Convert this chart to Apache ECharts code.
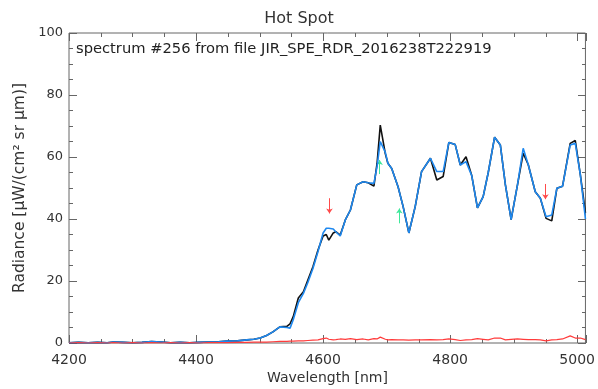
<!DOCTYPE html>
<html>
<head>
<meta charset="utf-8">
<script src="https://cdn.jsdelivr.net/npm/echarts@6/dist/echarts.min.js"></script>
<style>
  html, body { margin: 0; padding: 0; background: #fff; }
  #chart { width: 598px; height: 389px; }
</style>
</head>
<body>
<div id="chart"></div>
<script>
// Wavelength samples [nm]
const wavelength = [4200,4215,4230,4245,4260,4270,4285,4300,4315,4330,4345,4360,4375,4390,4405,4420,4435,4449,4465,4480,4491,4501,4511,4521,4532,4543,4548,4553,4561,4569,4576,4584,4592,4600,4605,4609,4616,4620,4627,4635,4643,4653,4663,4671,4680,4685,4690,4698,4702,4708,4718,4726,4735,4745,4755,4769,4779,4789,4798,4808,4816,4825,4834,4843,4852,4860,4870,4879,4887,4896,4906,4915,4923,4934,4942,4951,4960,4968,4977,4989,4997,5005,5013];

// Observed radiance (black)
const observed = [0.1,0.2,0.1,0.2,0.1,0.3,0.2,0.1,0.2,0.5,0.3,0.1,0.2,0.1,0.2,0.3,0.4,0.6,0.7,1.0,1.2,1.6,2.4,3.6,5.2,5.4,6.2,8.5,14.5,16.5,20.3,24.6,30.0,34.5,35.0,33.2,35.5,35.9,34.8,39.7,42.9,51.0,52.0,51.7,50.6,58.0,70.3,61.0,58.0,56.3,50.4,44.0,35.5,44.0,55.3,59.6,52.6,53.7,64.7,64.0,57.4,60.1,54.0,43.6,47.2,55.0,66.4,63.9,51.0,39.8,51.0,61.2,57.5,48.8,46.7,40.2,39.4,49.9,50.6,64.4,65.3,54.2,42.0];

// Model fit (blue)
const model = [0.1,0.2,0.1,0.2,0.1,0.3,0.2,0.1,0.2,0.5,0.3,0.1,0.2,0.1,0.2,0.3,0.4,0.6,0.7,1.0,1.2,1.6,2.4,3.6,5.2,5.0,4.8,7.5,13.0,16.0,19.5,24.0,29.5,35.5,37.0,37.0,36.8,35.9,34.5,39.7,42.9,51.0,52.0,51.7,51.5,57.0,65.0,61.5,58.0,56.3,50.4,44.0,35.5,44.0,55.3,59.6,55.3,55.3,64.7,64.0,57.4,58.5,54.0,43.6,47.2,55.0,66.4,63.9,51.0,39.8,51.0,62.8,57.5,48.8,46.7,40.7,41.3,49.9,50.6,63.9,64.4,54.2,40.0];

// Residual / error (red)
const residual = [0.0,0.1,0.0,0.1,0.0,0.1,0.0,0.1,0.0,0.1,0.0,0.1,0.0,0.1,0.0,0.1,0.1,0.1,0.2,0.2,0.3,0.3,0.3,0.4,0.5,0.5,0.6,0.6,0.7,0.7,0.8,0.9,1.0,1.4,1.6,1.2,1.0,1.1,1.3,1.2,1.4,1.1,1.3,1.0,1.4,1.3,1.9,1.2,1.0,1.1,1.0,1.0,0.9,1.0,1.0,1.1,1.0,1.1,1.3,1.1,0.8,1.0,1.1,1.4,1.2,1.0,1.6,1.6,1.0,1.2,1.3,1.2,1.1,1.1,1.0,0.7,1.0,1.1,1.3,2.3,1.6,1.6,1.1];

// Marker arrows: [wavelength, tail value, head value]
const redArrows = [[4610, 46.7, 41.8], [4950, 51.3, 46.4]];
const greenArrows = [[4689, 54.5, 59.0], [4720, 38.6, 43.4]];

const FONT = 'DejaVu Sans';
const AXIS_COLOR = '#666';
const X_MIN = 4200, X_MAX = 5013;
const X_MAJOR = 200, X_MINOR = 50;
const Y_MIN = 0, Y_MAX = 100, Y_MAJOR = 20, Y_MINOR = 5;
const GRID_BOX = { left: 69, top: 33, right: 12, bottom: 46 };

const pairs = (ys) => wavelength.map((x, i) => [x, ys[i]]);
const arrowData = (list) => list.map(a => ({ coords: [[a[0], a[1]], [a[0], a[2]]] }));
const textStyle = (size) => ({ fontFamily: FONT, fontSize: size, color: '#333' });

// Tick-only axis: shifted into the plot by its tick length so the ticks
// point inward from the frame edge.
function tickAxis(dim, gridIndex, pos, interval, len) {
  return {
    type: 'value', gridIndex, position: pos, offset: -len, interval,
    min: dim === 'x' ? X_MIN : Y_MIN, max: dim === 'x' ? X_MAX : Y_MAX,
    axisLine: { show: false, onZero: false },
    axisTick: { show: true, length: len, lineStyle: { color: AXIS_COLOR } },
    axisLabel: { show: false },
    splitLine: { show: false }
  };
}

const chart = echarts.init(document.getElementById('chart'));
chart.setOption({
  animation: false,
  title: {
    text: 'Hot Spot', left: 'center', top: 6,
    textStyle: { fontFamily: FONT, fontSize: 16, fontWeight: 'normal', color: '#333' }
  },
  // grid 0: frame, labels and data; grid 1: major ticks; grid 2: minor ticks
  grid: [
    Object.assign({ show: true, borderColor: AXIS_COLOR, borderWidth: 1 }, GRID_BOX),
    Object.assign({}, GRID_BOX),
    Object.assign({}, GRID_BOX)
  ],
  graphic: [
    {
      type: 'text', left: 76, top: 42,
      style: { text: 'spectrum #256 from file JIR_SPE_RDR_2016238T222919',
               font: '14.7px "DejaVu Sans"', fill: '#222' }
    },
    {
      // y-axis title, rotated
      type: 'text', x: 20, y: 188, rotation: Math.PI / 2,
      style: { text: 'Radiance [\u03bcW/(cm\u00b2 sr \u03bcm)]', font: '15.5px "DejaVu Sans"',
               fill: '#333', align: 'center', verticalAlign: 'middle' }
    },
    {
      // x-axis title
      type: 'text', x: 327.5, y: 378,
      style: { text: 'Wavelength [nm]', font: '14px "DejaVu Sans"',
               fill: '#333', align: 'center', verticalAlign: 'middle' }
    }
  ],
  xAxis: [
    {
      type: 'value', gridIndex: 0, position: 'bottom', min: X_MIN, max: X_MAX, interval: X_MAJOR,
      axisLine: { show: false, onZero: false },
      axisTick: { show: false },
      axisLabel: { margin: 10, showMaxLabel: false,
                   formatter: (v) => (v % X_MAJOR === 0 ? String(v) : ''),
                   ...textStyle(14) },
      splitLine: { show: false }
    },
    tickAxis('x', 1, 'bottom', X_MAJOR, 8),
    tickAxis('x', 1, 'top', X_MAJOR, 8),
    tickAxis('x', 2, 'bottom', X_MINOR, 4),
    tickAxis('x', 2, 'top', X_MINOR, 4)
  ],
  yAxis: [
    {
      type: 'value', gridIndex: 0, position: 'left', min: Y_MIN, max: Y_MAX, interval: Y_MAJOR,
      axisLine: { show: false, onZero: false },
      axisTick: { show: false },
      axisLabel: { margin: 6, formatter: (v) => String(v), ...textStyle(13) },
      splitLine: { show: false }
    },
    tickAxis('y', 1, 'left', Y_MAJOR, 8),
    tickAxis('y', 1, 'right', Y_MAJOR, 8),
    tickAxis('y', 2, 'left', Y_MINOR, 4),
    tickAxis('y', 2, 'right', Y_MINOR, 4)
  ],
  series: [
    { type: 'line', xAxisIndex: 0, yAxisIndex: 0, data: pairs(observed), showSymbol: false,
      lineStyle: { color: '#111', width: 1.6 } },
    { type: 'line', xAxisIndex: 0, yAxisIndex: 0, data: pairs(model), showSymbol: false,
      lineStyle: { color: '#1e88ef', width: 1.6 } },
    { type: 'line', xAxisIndex: 0, yAxisIndex: 0, data: pairs(residual), showSymbol: false,
      lineStyle: { color: '#ff3b3b', width: 1.2 } },
    { type: 'lines', coordinateSystem: 'cartesian2d', xAxisIndex: 0, yAxisIndex: 0,
      symbol: ['none', 'arrow'], symbolSize: 5,
      lineStyle: { color: '#ff4a4a', width: 1, opacity: 1, curveness: 0 },
      data: arrowData(redArrows) },
    { type: 'lines', coordinateSystem: 'cartesian2d', xAxisIndex: 0, yAxisIndex: 0,
      symbol: ['none', 'arrow'], symbolSize: 5,
      lineStyle: { color: '#3ee89a', width: 1, opacity: 1, curveness: 0 },
      data: arrowData(greenArrows) }
  ]
});
</script>
</body>
</html>
